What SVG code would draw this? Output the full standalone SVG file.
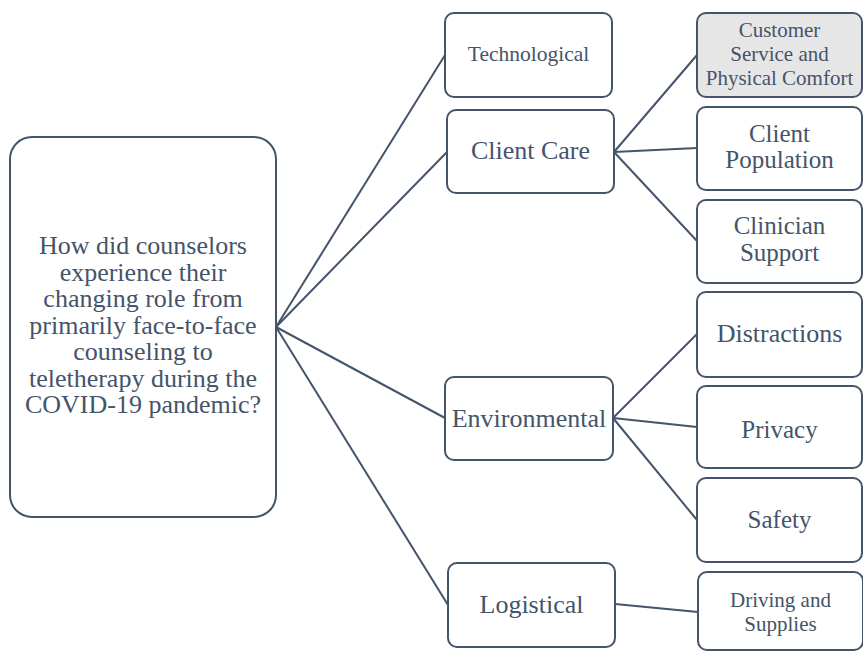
<svg xmlns="http://www.w3.org/2000/svg" width="863" height="651" viewBox="0 0 863 651" font-family="'Liberation Serif', 'DejaVu Serif', serif">
  <style>
    .box { fill: #ffffff; stroke: #44546a; stroke-width: 2; }
    .shaded { fill: #e7e6e6; }
    .link { stroke: #44546a; stroke-width: 2; fill: none; }
    .t { fill: #44546a; text-anchor: middle; }
    .xl { font-size: 26px; }
    .lg { font-size: 25px; }
    .md { font-size: 21px; }
    .sm { font-size: 21px; }
  </style>
  <rect width="863" height="651" fill="#ffffff"/>

  <!-- connectors -->
  <g id="connectors">
    <line class="link" x1="276" y1="327" x2="445" y2="55"/>
    <line class="link" x1="276" y1="327" x2="447" y2="152"/>
    <line class="link" x1="276" y1="327" x2="445" y2="418"/>
    <line class="link" x1="276" y1="327" x2="448" y2="605"/>
    <line class="link" x1="614" y1="152" x2="697" y2="55"/>
    <line class="link" x1="614" y1="152" x2="697" y2="148"/>
    <line class="link" x1="614" y1="152" x2="697" y2="241"/>
    <line class="link" x1="613" y1="418" x2="697" y2="334"/>
    <line class="link" x1="613" y1="418" x2="697" y2="427"/>
    <line class="link" x1="613" y1="418" x2="697" y2="520"/>
    <line class="link" x1="615" y1="604" x2="698" y2="612"/>
  </g>

  <!-- central question -->
  <g id="question">
    <rect class="box" x="10" y="137" width="266" height="380" rx="22"/>
    <text class="t xl" font-family="Liberation Serif" x="143" y="254">How did counselors</text>
    <text class="t xl" font-family="Liberation Serif" x="143" y="280.5">experience their</text>
    <text class="t xl" font-family="Liberation Serif" x="143" y="307">changing role from</text>
    <text class="t xl" font-family="Liberation Serif" x="143" y="333.5">primarily face-to-face</text>
    <text class="t xl" font-family="Liberation Serif" x="143" y="360">counseling to</text>
    <text class="t xl" font-family="Liberation Serif" x="143" y="386.5">teletherapy during the</text>
    <text class="t xl" font-family="Liberation Serif" x="143" y="413">COVID-19 pandemic?</text>
  </g>

  <!-- themes -->
  <g id="technological">
    <rect class="box" x="445" y="13" width="167" height="84" rx="9"/>
    <text class="t" font-size="21.5" font-family="Liberation Serif" x="528.5" y="61">Technological</text>
  </g>
  <g id="client-care">
    <rect class="box" x="447" y="110" width="167" height="83" rx="9"/>
    <text class="t xl" font-family="Liberation Serif" x="530.5" y="159">Client Care</text>
  </g>
  <g id="environmental">
    <rect class="box" x="445" y="377" width="168" height="83" rx="9"/>
    <text class="t xl" font-family="Liberation Serif" x="529" y="427">Environmental</text>
  </g>
  <g id="logistical">
    <rect class="box" x="448" y="563" width="167" height="84" rx="9"/>
    <text class="t xl" font-family="Liberation Serif" x="531.5" y="613">Logistical</text>
  </g>

  <!-- subthemes: client care -->
  <g id="customer-service">
    <rect class="box shaded" x="697" y="13" width="165" height="84" rx="9"/>
    <text class="t md" font-family="Liberation Serif" x="779.5" y="37">Customer</text>
    <text class="t md" font-family="Liberation Serif" x="779.5" y="61">Service and</text>
    <text class="t md" font-family="Liberation Serif" x="779.5" y="85">Physical Comfort</text>
  </g>
  <g id="client-population">
    <rect class="box" x="697" y="107" width="165" height="83" rx="9"/>
    <text class="t lg" font-family="Liberation Serif" x="779.5" y="142">Client</text>
    <text class="t lg" font-family="Liberation Serif" x="779.5" y="168">Population</text>
  </g>
  <g id="clinician-support">
    <rect class="box" x="697" y="200" width="165" height="83" rx="9"/>
    <text class="t lg" font-family="Liberation Serif" x="779.5" y="234">Clinician</text>
    <text class="t lg" font-family="Liberation Serif" x="779.5" y="261">Support</text>
  </g>

  <!-- subthemes: environmental -->
  <g id="distractions">
    <rect class="box" x="697" y="292" width="165" height="85" rx="9"/>
    <text class="t xl" font-family="Liberation Serif" x="779.5" y="342">Distractions</text>
  </g>
  <g id="privacy">
    <rect class="box" x="697" y="386" width="165" height="82" rx="9"/>
    <text class="t lg" font-family="Liberation Serif" x="779.5" y="438">Privacy</text>
  </g>
  <g id="safety">
    <rect class="box" x="697" y="478" width="165" height="84" rx="9"/>
    <text class="t lg" font-family="Liberation Serif" x="779.5" y="528">Safety</text>
  </g>

  <!-- subthemes: logistical -->
  <g id="driving-supplies">
    <rect class="box" x="698" y="572" width="165" height="78" rx="9"/>
    <text class="t sm" font-family="Liberation Serif" x="780.5" y="607">Driving and</text>
    <text class="t sm" font-family="Liberation Serif" x="780.5" y="631">Supplies</text>
  </g>
</svg>
